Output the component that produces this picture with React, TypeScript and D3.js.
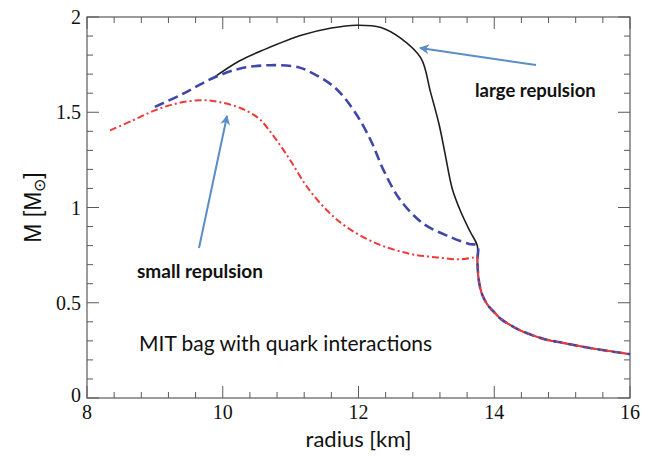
import React from 'react';
import * as d3 from 'd3';

const W = 660;
const H = 459;

const xDomain = [8, 16];
const yDomain = [0, 2];
const xTickLabels = [8, 10, 12, 14, 16];
const yTickLabels = [0, 0.5, 1, 1.5, 2];

// common low-mass branch (hadronic stars)
const tailR = [13.75, 13.752, 13.76, 13.78, 13.82, 13.9, 14.0, 14.1, 14.25, 14.4, 14.74, 15.0, 15.23, 15.57, 16.0];
const tailM = [0.8, 0.72, 0.66, 0.6, 0.545, 0.49, 0.45, 0.414, 0.38, 0.352, 0.309, 0.29, 0.274, 0.253, 0.23];

// large repulsion (black solid)
const largeR = [9.84, 10.25, 10.62, 11.17, 11.6, 11.97, 12.33, 12.62, 12.92, 13.06, 13.19, 13.28, 13.38, 13.51, 13.65];
const largeM = [1.675, 1.77, 1.83, 1.905, 1.942, 1.957, 1.945, 1.889, 1.784, 1.607, 1.432, 1.274, 1.1, 0.975, 0.87];

// intermediate (blue dashed)
const midR = [9.0, 9.42, 9.84, 10.26, 10.7, 11.1, 11.24, 11.64, 11.93, 12.18, 12.37, 12.62, 12.96, 13.36, 13.63];
const midM = [1.528, 1.598, 1.677, 1.73, 1.747, 1.738, 1.72, 1.633, 1.51, 1.353, 1.195, 1.037, 0.914, 0.844, 0.809];

// small repulsion (red dash-dot)
const smallR = [8.34, 8.68, 9.0, 9.32, 9.67, 9.96, 10.26, 10.4, 10.55, 10.7, 10.85, 11.0, 11.24, 11.53, 11.83, 12.28, 12.77, 13.16, 13.5, 13.7, 13.75];
const smallM = [1.405, 1.458, 1.51, 1.546, 1.563, 1.553, 1.522, 1.498, 1.462, 1.398, 1.325, 1.245, 1.109, 0.987, 0.896, 0.809, 0.756, 0.738, 0.728, 0.738, 0.74];

const annotLarge = 'large repulsion';
const annotSmall = 'small repulsion';
const annotModel = 'MIT bag with quark interactions';

export default function App() {
  const x = d3.scaleLinear().domain(xDomain).range([87, 630]);
  const y = d3.scaleLinear().domain(yDomain).range([398, 17]);

  const line = d3
    .line<[number, number]>()
    .x((d) => x(d[0]))
    .y((d) => y(d[1]))
    .curve(d3.curveCatmullRom.alpha(0.5));

  const zip = (r: number[], m: number[]) => r.map((v, i) => [v, m[i]] as [number, number]);
  const tail = zip(tailR, tailM);
  const largePts = zip(largeR, largeM).concat(tail);
  const midPts = zip(midR, midM).concat(tail);
  const smallPts = zip(smallR, smallM).concat(tail.slice(1));

  const xt = d3.range(0, 21).map((i) => 8 + i * 0.4);
  const yt = d3.range(0, 21).map((i) => i * 0.1);
  const isMajorX = (v: number) => Math.abs(v / 2 - Math.round(v / 2)) < 1e-6;
  const isMajorY = (v: number) => Math.abs(v / 0.5 - Math.round(v / 0.5)) < 1e-6;

  const [x0, x1] = x.range();
  const [y0, y1] = y.range();
  const axisCol = '#5a5a5a';
  const arrowCol = '#5b8dc6';

  return (
    <svg width={W} height={H} style={{ position: 'absolute', left: 0, top: 0, background: '#fff' }}>
      <defs>
        <marker id="ah" viewBox="0 0 10 10" refX="9" refY="5" markerWidth="5" markerHeight="5" orient="auto" markerUnits="strokeWidth">
          <path d="M0,0 L10,5 L0,10 L3,5 Z" fill={arrowCol} />
        </marker>
      </defs>
      <rect x={x0} y={y1} width={x1 - x0} height={y0 - y1} fill="none" stroke={axisCol} strokeWidth={1.2} />
      {xt.map((v, i) => {
        const L = isMajorX(v) ? 12 : 6;
        return (
          <g key={'xt' + i}>
            <line x1={x(v)} x2={x(v)} y1={y0} y2={y0 - L} stroke={axisCol} strokeWidth={1} />
            <line x1={x(v)} x2={x(v)} y1={y1} y2={y1 + L} stroke={axisCol} strokeWidth={1} />
          </g>
        );
      })}
      {yt.map((v, i) => {
        const L = isMajorY(v) ? 12 : 6;
        return (
          <g key={'yt' + i}>
            <line x1={x0} x2={x0 + L} y1={y(v)} y2={y(v)} stroke={axisCol} strokeWidth={1} />
            <line x1={x1} x2={x1 - L} y1={y(v)} y2={y(v)} stroke={axisCol} strokeWidth={1} />
          </g>
        );
      })}
      {xTickLabels.map((v) => (
        <text key={'xl' + v} x={x(v)} y={y0 + 21} textAnchor="middle" fontFamily="Liberation Serif, serif" fontSize={20} fill="#111">
          {v}
        </text>
      ))}
      {yTickLabels.map((v) => (
        <text key={'yl' + v} x={x0 - 6} y={y(v) + (v === 0 ? 4 : 7)} textAnchor="end" fontFamily="Liberation Serif, serif" fontSize={20} fill="#111">
          {v}
        </text>
      ))}
      <text x={(x0 + x1) / 2} y={447} textAnchor="middle" fontFamily="Lato, sans-serif" fontSize={22} fill="#111">
        radius [km]
      </text>
      <text transform={`translate(41,${(y0 + y1) / 2}) rotate(-90)`} textAnchor="middle" fontFamily="Liberation Sans, Arial, sans-serif" fontSize={23} fill="#111">
        M [M<tspan fontSize={16} dy={4}>⊙</tspan><tspan dy={-4}>]</tspan>
      </text>

      <path d={line(largePts) || ''} fill="none" stroke="#1e1e1e" strokeWidth={1.6} />
      <path d={line(midPts) || ''} fill="none" stroke="#3f48a8" strokeWidth={2.6} strokeDasharray="10 5" />
      <path d={line(smallPts) || ''} fill="none" stroke="#ee3a3a" strokeWidth={2} strokeDasharray="7 3 2 3" />

      <line x1={536} y1={65} x2={420} y2={48} stroke={arrowCol} strokeWidth={2} markerEnd="url(#ah)" />
      <line x1={199} y1={248} x2={227} y2={116} stroke={arrowCol} strokeWidth={2} markerEnd="url(#ah)" />

      <text x={475} y={97} fontFamily="Lato, sans-serif" fontWeight="bold" fontSize={18.5} fill="#111">
        {annotLarge}
      </text>
      <text x={137} y={278} fontFamily="Lato, sans-serif" fontWeight="bold" fontSize={19} fill="#111">
        {annotSmall}
      </text>
      <text x={139} y={351} fontFamily="Lato, sans-serif" fontSize={21} fill="#111">
        {annotModel}
      </text>
    </svg>
  );
}
